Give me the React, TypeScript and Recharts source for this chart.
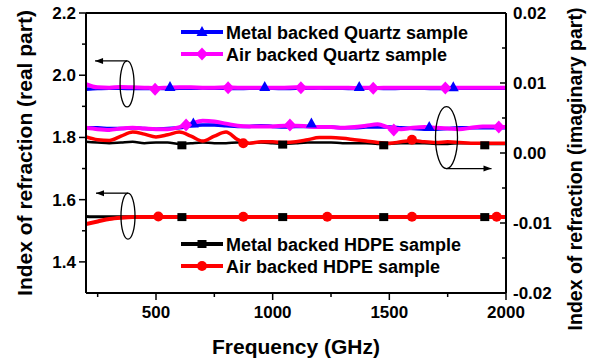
import { ComposedChart, Line, Scatter, XAxis, YAxis, ReferenceLine, ReferenceDot } from "recharts"

const FONT = '"Liberation Sans", Arial, sans-serif'

// frequency grid (GHz)
const freq = [200, 250, 300, 350, 400, 450, 500, 550, 600, 650, 700, 750, 800, 850, 900, 950, 1000, 1050, 1100, 1150, 1200, 1250, 1300, 1350, 1400, 1450, 1500, 1550, 1600, 1650, 1700, 1750, 1800, 1850, 1900, 1950, 2000]

// real part (left axis)
const quartzMetalRe = [1.955, 1.957, 1.958, 1.958, 1.957, 1.957, 1.958, 1.957, 1.958, 1.958, 1.959, 1.958, 1.958, 1.957, 1.958, 1.958, 1.958, 1.957, 1.958, 1.958, 1.959, 1.958, 1.958, 1.957, 1.958, 1.958, 1.957, 1.958, 1.958, 1.958, 1.957, 1.957, 1.958, 1.958, 1.958, 1.958, 1.958]
const quartzAirRe = [1.971, 1.961, 1.960, 1.962, 1.961, 1.960, 1.959, 1.960, 1.961, 1.961, 1.960, 1.960, 1.961, 1.960, 1.960, 1.960, 1.960, 1.960, 1.961, 1.960, 1.960, 1.960, 1.960, 1.959, 1.960, 1.959, 1.960, 1.960, 1.960, 1.960, 1.960, 1.959, 1.960, 1.960, 1.960, 1.960, 1.960]
const hdpeMetalRe = [1.546, 1.545, 1.545, 1.545, 1.545, 1.545, 1.544, 1.545, 1.545, 1.545, 1.544, 1.545, 1.545, 1.545, 1.545, 1.544, 1.545, 1.545, 1.545, 1.545, 1.545, 1.544, 1.545, 1.545, 1.545, 1.545, 1.544, 1.545, 1.545, 1.545, 1.545, 1.545, 1.544, 1.545, 1.545, 1.545, 1.545]
const hdpeAirRe = [1.522, 1.530, 1.538, 1.542, 1.544, 1.544, 1.544, 1.544, 1.544, 1.544, 1.544, 1.544, 1.544, 1.544, 1.544, 1.544, 1.544, 1.544, 1.544, 1.544, 1.544, 1.544, 1.544, 1.544, 1.544, 1.544, 1.544, 1.544, 1.544, 1.544, 1.544, 1.544, 1.544, 1.544, 1.544, 1.544, 1.544]

// imaginary part (right axis)
const quartzMetalIm = [0.0036, 0.0036, 0.0035, 0.0035, 0.0036, 0.0035, 0.0034, 0.0035, 0.0036, 0.0039, 0.0040, 0.0040, 0.0039, 0.0038, 0.0038, 0.0039, 0.0038, 0.0037, 0.0038, 0.0038, 0.0037, 0.0037, 0.0036, 0.0036, 0.0037, 0.0037, 0.0037, 0.0036, 0.0035, 0.0034, 0.0034, 0.0035, 0.0036, 0.0036, 0.0036, 0.0036, 0.0036]
const quartzAirIm = [0.0036, 0.0034, 0.0033, 0.0035, 0.0036, 0.0035, 0.0034, 0.0034, 0.0037, 0.0042, 0.0046, 0.0045, 0.0042, 0.0039, 0.0038, 0.0038, 0.0038, 0.0039, 0.0039, 0.0038, 0.0037, 0.0037, 0.0036, 0.0037, 0.0039, 0.0041, 0.0036, 0.0034, 0.0036, 0.0037, 0.0036, 0.0035, 0.0034, 0.0036, 0.0038, 0.0038, 0.0037]
const hdpeMetalIm = [0.0016, 0.0015, 0.0014, 0.0015, 0.0016, 0.0014, 0.0015, 0.0015, 0.0013, 0.0014, 0.0015, 0.0014, 0.0014, 0.0015, 0.0014, 0.0015, 0.0014, 0.0013, 0.0014, 0.0015, 0.0015, 0.0015, 0.0014, 0.0014, 0.0014, 0.0013, 0.0013, 0.0014, 0.0014, 0.0014, 0.0013, 0.0013, 0.0014, 0.0014, 0.0013, 0.0013, 0.0013]
const hdpeAirIm = [0.0023, 0.0019, 0.0018, 0.0024, 0.0030, 0.0027, 0.0023, 0.0026, 0.0030, 0.0024, 0.0017, 0.0024, 0.0030, 0.0019, 0.0014, 0.0016, 0.0016, 0.0015, 0.0016, 0.0019, 0.0022, 0.0022, 0.0021, 0.0019, 0.0017, 0.0015, 0.0014, 0.0016, 0.0018, 0.0016, 0.0015, 0.0016, 0.0015, 0.0014, 0.0014, 0.0014, 0.0014]

// sparse marker points
const quartzMetalReMarkF = [560, 966, 1371, 1774]
const quartzMetalReMarkV = [1.962, 1.962, 1.962, 1.961]
const quartzAirReMarkF = [496, 809, 1121, 1431, 1740]
const quartzAirReMarkV = [1.955, 1.960, 1.960, 1.958, 1.959]
const hdpeMetalReMarkF = [611, 1043, 1476, 1909]
const hdpeMetalReMarkV = [1.544, 1.544, 1.544, 1.544]
const hdpeAirReMarkF = [510, 874, 1234, 1597, 1960]
const hdpeAirReMarkV = [1.546, 1.545, 1.545, 1.545, 1.545]
const quartzMetalImMarkF = [660, 1166, 1671]
const quartzMetalImMarkV = [0.0042, 0.0042, 0.0037]
const quartzAirImMarkF = [629, 1074, 1519, 1969]
const quartzAirImMarkV = [0.0040, 0.0040, 0.0033, 0.0037]
const hdpeMetalImMarkF = [611, 1043, 1476, 1909]
const hdpeMetalImMarkV = [0.0011, 0.0012, 0.0011, 0.0011]
const hdpeAirImMarkF = [874, 1597]
const hdpeAirImMarkV = [0.0014, 0.0019]

const xTicks = [250, 500, 750, 1000, 1250, 1500, 1750, 2000]
const leftTicks = [1.4, 1.5, 1.6, 1.7, 1.8, 1.9, 2.0, 2.1, 2.2]
const rightTicks = [-0.02, -0.015, -0.01, -0.005, 0, 0.005, 0.01, 0.015, 0.02]

const data = freq.map((f, i) => ({
  f,
  qmRe: quartzMetalRe[i],
  qaRe: quartzAirRe[i],
  hmRe: hdpeMetalRe[i],
  haRe: hdpeAirRe[i],
  qmIm: quartzMetalIm[i],
  qaIm: quartzAirIm[i],
  hmIm: hdpeMetalIm[i],
  haIm: hdpeAirIm[i],
}))

const marks = (fs: number[], vs: number[]) => fs.map((f, i) => ({ f, v: vs[i] }))

const BLUE = "#0000ff"
const MAGENTA = "#ff00ff"
const RED = "#ff0000"
const BLACK = "#000000"

const Triangle = ({ cx, cy, color }: any) => (
  <polygon points={`${cx},${cy - 6} ${cx - 5.5},${cy + 4} ${cx + 5.5},${cy + 4}`} fill={color} />
)
const Diamond = ({ cx, cy, color }: any) => (
  <polygon points={`${cx},${cy - 6.5} ${cx + 6},${cy} ${cx},${cy + 6.5} ${cx - 6},${cy}`} fill={color} />
)
const Square = ({ cx, cy, color }: any) => <rect x={cx - 4.5} y={cy - 4} width={9} height={8} fill={color} />
const Circle = ({ cx, cy, color }: any) => <circle cx={cx} cy={cy} r={5} fill={color} />

const XTick = ({ x, y, payload }: any) => {
  const major = payload.value % 500 === 0
  return (
    <g>
      <line x1={x} x2={x} y1={y} y2={y + (major ? 7 : 4)} stroke="#000" strokeWidth={1.5} />
      {major && (
        <text x={x} y={y + 25} textAnchor="middle" fontFamily={FONT} fontWeight="bold" fontSize={17} fill="#000">
          {payload.value}
        </text>
      )}
    </g>
  )
}

const LeftTick = ({ x, y, payload }: any) => {
  const major = Math.round(payload.value * 10) % 2 === 0
  return (
    <g>
      <line x1={x - (major ? 7 : 4)} x2={x} y1={y} y2={y} stroke="#000" strokeWidth={1.5} />
      {major && (
        <text x={x - 10} y={y + 6} textAnchor="end" fontFamily={FONT} fontWeight="bold" fontSize={17} fill="#000">
          {payload.value.toFixed(1)}
        </text>
      )}
    </g>
  )
}

const RightTick = ({ x, y, payload }: any) => {
  const major = Math.round(payload.value * 1000) % 10 === 0
  return (
    <g>
      <line x1={x - (major ? 6 : 4)} x2={x} y1={y} y2={y} stroke="#000" strokeWidth={1.5} />
      {major && (
        <text x={x + 7} y={y + 6} textAnchor="start" fontFamily={FONT} fontWeight="bold" fontSize={17} fill="#000">
          {payload.value.toFixed(2)}
        </text>
      )}
    </g>
  )
}

// ellipse marking a group of curves, with an arrow pointing to its axis
const Bracket = ({ cx, cy, rx, ry, dir }: any) => {
  const ay = dir === "left" ? cy - ry : cy + ry
  const x2 = dir === "left" ? cx - 32 : cx + 45
  const head = dir === "left" ? `${x2},${ay} ${x2 + 8},${ay - 3} ${x2 + 8},${ay + 3}` : `${x2},${ay} ${x2 - 8},${ay - 3} ${x2 - 8},${ay + 3}`
  return (
    <g>
      <ellipse cx={cx} cy={cy} rx={rx} ry={ry} fill="none" stroke="#000" strokeWidth={1.3} />
      <line x1={cx} y1={ay} x2={x2} y2={ay} stroke="#000" strokeWidth={1.3} />
      <polygon points={head} fill="#000" />
    </g>
  )
}

const LegendRow = ({ y, color, Marker, label }: any) => (
  <g>
    <line x1={181} x2={223} y1={y} y2={y} stroke={color} strokeWidth={4} />
    <Marker cx={202} cy={y} color={color} />
    <text x={226} y={y + 6.5} fontFamily={FONT} fontWeight="bold" fontSize={18} fill="#000">
      {label}
    </text>
  </g>
)

export default function App() {
  return (
    <div style={{ position: "absolute", left: 0, top: 0, width: 606, height: 364, background: "#fff" }}>
      <ComposedChart width={606} height={364} data={data} margin={{ top: 13, right: 0, bottom: 0, left: 0 }}>
        <XAxis
          dataKey="f"
          type="number"
          domain={[200, 2000]}
          allowDataOverflow
          ticks={xTicks}
          tick={<XTick />}
          tickLine={false}
          tickSize={0}
          tickMargin={0}
          height={71}
          interval={0}
          axisLine={{ stroke: "#000", strokeWidth: 2 }}
        />
        <YAxis
          yAxisId="left"
          domain={[1.3, 2.2]}
          allowDataOverflow
          ticks={leftTicks}
          tick={<LeftTick />}
          tickLine={false}
          tickSize={0}
          tickMargin={0}
          width={86}
          interval={0}
          axisLine={{ stroke: "#000", strokeWidth: 2 }}
        />
        <YAxis
          yAxisId="right"
          orientation="right"
          domain={[-0.02, 0.02]}
          allowDataOverflow
          ticks={rightTicks}
          tick={<RightTick />}
          tickLine={false}
          tickSize={0}
          tickMargin={0}
          width={100}
          interval={0}
          axisLine={{ stroke: "#000", strokeWidth: 2 }}
        />
        <ReferenceLine yAxisId="left" y={2.2} stroke="#000" strokeWidth={2} />

        <Line yAxisId="left" dataKey="qmRe" type="monotone" stroke={BLUE} strokeWidth={3.5} dot={false} activeDot={false} isAnimationActive={false} />
        <Line yAxisId="left" dataKey="qaRe" type="monotone" stroke={MAGENTA} strokeWidth={4} dot={false} activeDot={false} isAnimationActive={false} />
        <Line yAxisId="left" dataKey="hmRe" type="monotone" stroke={BLACK} strokeWidth={3} dot={false} activeDot={false} isAnimationActive={false} />
        <Line yAxisId="left" dataKey="haRe" type="monotone" stroke={RED} strokeWidth={4} dot={false} activeDot={false} isAnimationActive={false} />
        <Line yAxisId="right" dataKey="qmIm" type="monotone" stroke={BLUE} strokeWidth={3.5} dot={false} activeDot={false} isAnimationActive={false} />
        <Line yAxisId="right" dataKey="qaIm" type="monotone" stroke={MAGENTA} strokeWidth={4} dot={false} activeDot={false} isAnimationActive={false} />
        <Line yAxisId="right" dataKey="hmIm" type="monotone" stroke={BLACK} strokeWidth={2.5} dot={false} activeDot={false} isAnimationActive={false} />
        <Line yAxisId="right" dataKey="haIm" type="monotone" stroke={RED} strokeWidth={3.5} dot={false} activeDot={false} isAnimationActive={false} />

        <Scatter yAxisId="left" data={marks(quartzMetalReMarkF, quartzMetalReMarkV)} dataKey="v" shape={(p: any) => <Triangle cx={p.cx} cy={p.cy} color={BLUE} />} isAnimationActive={false} />
        <Scatter yAxisId="left" data={marks(quartzAirReMarkF, quartzAirReMarkV)} dataKey="v" shape={(p: any) => <Diamond cx={p.cx} cy={p.cy} color={MAGENTA} />} isAnimationActive={false} />
        <Scatter yAxisId="left" data={marks(hdpeMetalReMarkF, hdpeMetalReMarkV)} dataKey="v" shape={(p: any) => <Square cx={p.cx} cy={p.cy} color={BLACK} />} isAnimationActive={false} />
        <Scatter yAxisId="left" data={marks(hdpeAirReMarkF, hdpeAirReMarkV)} dataKey="v" shape={(p: any) => <Circle cx={p.cx} cy={p.cy} color={RED} />} isAnimationActive={false} />
        <Scatter yAxisId="right" data={marks(quartzMetalImMarkF, quartzMetalImMarkV)} dataKey="v" shape={(p: any) => <Triangle cx={p.cx} cy={p.cy} color={BLUE} />} isAnimationActive={false} />
        <Scatter yAxisId="right" data={marks(quartzAirImMarkF, quartzAirImMarkV)} dataKey="v" shape={(p: any) => <Diamond cx={p.cx} cy={p.cy} color={MAGENTA} />} isAnimationActive={false} />
        <Scatter yAxisId="right" data={marks(hdpeMetalImMarkF, hdpeMetalImMarkV)} dataKey="v" shape={(p: any) => <Square cx={p.cx} cy={p.cy} color={BLACK} />} isAnimationActive={false} />
        <Scatter yAxisId="right" data={marks(hdpeAirImMarkF, hdpeAirImMarkV)} dataKey="v" shape={(p: any) => <Circle cx={p.cx} cy={p.cy} color={RED} />} isAnimationActive={false} />

        <ReferenceDot yAxisId="left" x={376} y={1.972} shape={(p: any) => <Bracket cx={p.cx} cy={p.cy} rx={7} ry={23} dir="left" />} />
        <ReferenceDot yAxisId="left" x={380} y={1.547} shape={(p: any) => <Bracket cx={p.cx} cy={p.cy} rx={7} ry={23} dir="left" />} />
        <ReferenceDot yAxisId="right" x={1745} y={0.0022} shape={(p: any) => <Bracket cx={p.cx} cy={p.cy} rx={11} ry={31} dir="right" />} />
      </ComposedChart>

      <svg width={606} height={364} style={{ position: "absolute", left: 0, top: 0, pointerEvents: "none" }}>
        <LegendRow y={32} color={BLUE} Marker={Triangle} label="Metal backed Quartz sample" />
        <LegendRow y={54} color={MAGENTA} Marker={Diamond} label="Air backed Quartz sample" />
        <LegendRow y={244} color={BLACK} Marker={Square} label="Metal backed HDPE sample" />
        <LegendRow y={266} color={RED} Marker={Circle} label="Air backed HDPE sample" />
        <text transform="translate(32,153) rotate(-90)" textAnchor="middle" fontFamily={FONT} fontWeight="bold" fontSize={21} fill="#000">
          Index of refraction (real part)
        </text>
        <text transform="translate(582,169) rotate(-90)" textAnchor="middle" fontFamily={FONT} fontWeight="bold" fontSize={19.5} fill="#000">
          Index of refraction (imaginary part)
        </text>
        <text x={296} y={354} textAnchor="middle" fontFamily={FONT} fontWeight="bold" fontSize={21} fill="#000">
          Frequency (GHz)
        </text>
      </svg>
    </div>
  )
}
